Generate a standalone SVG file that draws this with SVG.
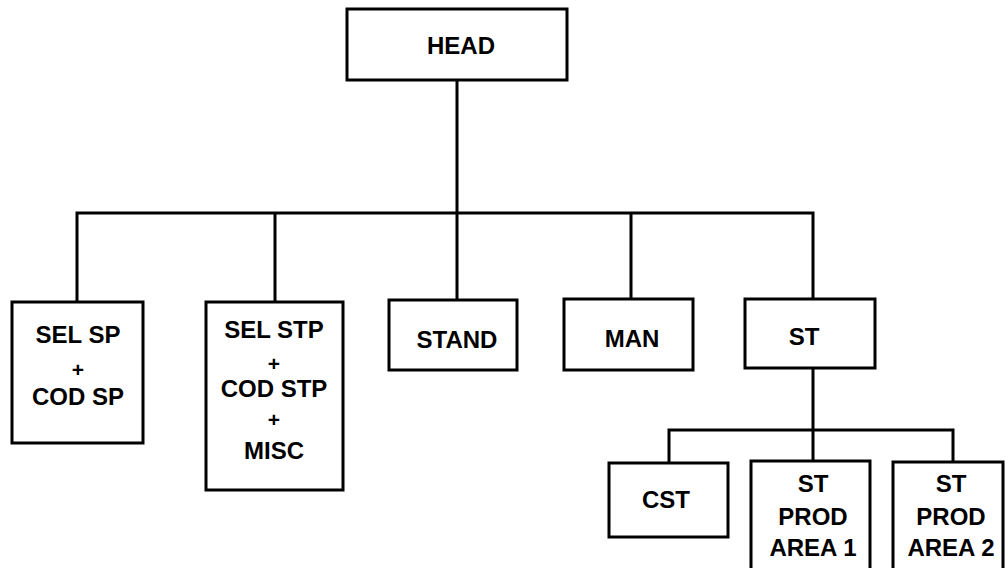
<svg xmlns="http://www.w3.org/2000/svg" width="1005" height="568" viewBox="0 0 1005 568">
<style>
.box{fill:#fff;stroke:#000;stroke-width:3}
.ln{fill:none;stroke:#000;stroke-width:3;stroke-linecap:square}
text{font-family:"Liberation Sans",Arial,sans-serif;font-weight:bold;font-size:24px;fill:#000;text-anchor:middle}
.pl{font-size:21px}
</style>
<rect width="1005" height="568" fill="#fff"/>
<g id="connectors">
<path class="ln" d="M457 80V213M77 213H813M77 213V302M275 213V302M457 213V300M631 213V299M813 213V299"/>
<path class="ln" d="M813 368V430M669 430H953M669 430V463M813 430V461M953 430V462"/>
</g>
<g id="head"><rect class="box" x="347" y="9" width="220" height="71"/><text x="461" y="54">HEAD</text></g>
<g id="selsp"><rect class="box" x="12" y="302" width="131" height="141"/>
<text x="78" y="343">SEL SP</text><text class="pl" x="78" y="377">+</text><text x="78" y="405">COD SP</text></g>
<g id="selstp"><rect class="box" x="206" y="302" width="137" height="188"/>
<text x="274" y="338">SEL STP</text><text class="pl" x="274" y="371">+</text><text x="274" y="397">COD STP</text><text class="pl" x="274" y="427">+</text><text x="274" y="459">MISC</text></g>
<g id="stand"><rect class="box" x="389" y="300" width="128" height="70"/><text x="457" y="348">STAND</text></g>
<g id="man"><rect class="box" x="564" y="299" width="129" height="71"/><text x="632" y="347">MAN</text></g>
<g id="st"><rect class="box" x="745" y="299" width="130" height="69"/><text x="804" y="345">ST</text></g>
<g id="cst"><rect class="box" x="609" y="463" width="119" height="74"/><text x="666" y="508">CST</text></g>
<g id="area1"><rect class="box" x="751" y="461" width="119" height="115"/>
<text x="813" y="492">ST</text><text x="813" y="525">PROD</text><text x="813" y="556">AREA 1</text></g>
<g id="area2"><rect class="box" x="893" y="462" width="110" height="115"/>
<text x="951" y="492">ST</text><text x="951" y="525">PROD</text><text x="951" y="556">AREA 2</text></g>
</svg>
